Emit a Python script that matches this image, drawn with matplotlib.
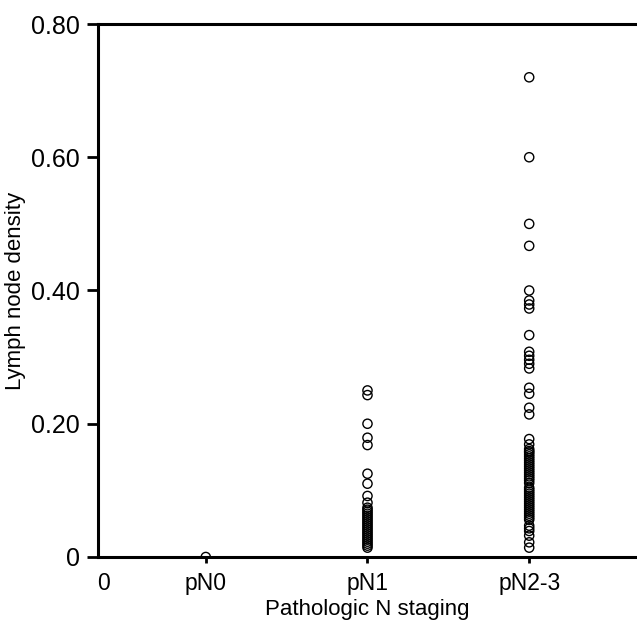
import matplotlib
matplotlib.use("Agg")
import matplotlib.pyplot as plt

categories = ["pN0", "pN1", "pN2-3"]
cat_positions = [1.0, 2.5, 4.0]

pn0_values = [0.0]

pn1_values = [0.25, 0.243, 0.20, 0.179, 0.168, 0.125, 0.11, 0.0916, 0.0815,
              0.074, 0.071, 0.068, 0.065, 0.062, 0.059, 0.056, 0.053, 0.050,
              0.047, 0.044, 0.041, 0.038, 0.035, 0.032, 0.029, 0.026, 0.023,
              0.020, 0.017, 0.014]

pn23_values = [0.72, 0.60, 0.50, 0.467, 0.40, 0.385, 0.379, 0.373, 0.333,
               0.308, 0.302, 0.296, 0.290, 0.283, 0.254, 0.245, 0.224, 0.214,
               0.177, 0.169,
               0.162, 0.159, 0.157, 0.154, 0.151, 0.148, 0.145, 0.142, 0.139,
               0.136, 0.133, 0.130, 0.127, 0.124, 0.121, 0.118, 0.115,
               0.111,
               0.104, 0.101, 0.098, 0.095, 0.092, 0.089, 0.086, 0.083, 0.080,
               0.077, 0.074, 0.071, 0.068, 0.065, 0.062, 0.059, 0.056,
               0.047, 0.043, 0.039, 0.032, 0.022, 0.014]

series = [pn0_values, pn1_values, pn23_values]

y_ticks = [0, 0.2, 0.4, 0.6, 0.8]
y_tick_labels = ["0", "0.20", "0.40", "0.60", "0.80"]
x_zero_label = "0"

plt.rcParams['font.family'] = ['Liberation Sans', 'DejaVu Sans']

fig = plt.figure(figsize=(6.37, 6.30), dpi=100)
ax = fig.add_axes([0.1538, 0.1159, 0.8462, 0.8460])

for pos, vals in zip(cat_positions, series):
    ax.scatter([pos] * len(vals), vals, s=44, facecolors='none',
               edgecolors='black', linewidths=1.0, zorder=1)

ax.set_xlim(0, 5)
ax.set_ylim(0, 0.8)

ax.set_yticks(y_ticks)
ax.set_yticklabels(y_tick_labels, fontsize=18)
ax.set_xticks([0.05] + cat_positions)
ax.set_xticklabels([x_zero_label] + categories, fontsize=16.5)

ax.tick_params(axis='y', direction='out', length=8, width=2, pad=5)
ax.tick_params(axis='x', direction='out', length=4, width=2, pad=7)
ax.xaxis.get_major_ticks()[0].tick1line.set_visible(False)

for side in ['left', 'top', 'bottom']:
    ax.spines[side].set_linewidth(2.2)
    ax.spines[side].set_color('black')
    ax.spines[side].set_zorder(3)
ax.spines['right'].set_visible(False)

ax.set_ylabel("Lymph node density", fontsize=16)
ax.yaxis.set_label_coords(-0.133, 0.5)
ax.set_xlabel("Pathologic N staging", fontsize=16, labelpad=3)

fig.savefig("out.png", dpi=100)
